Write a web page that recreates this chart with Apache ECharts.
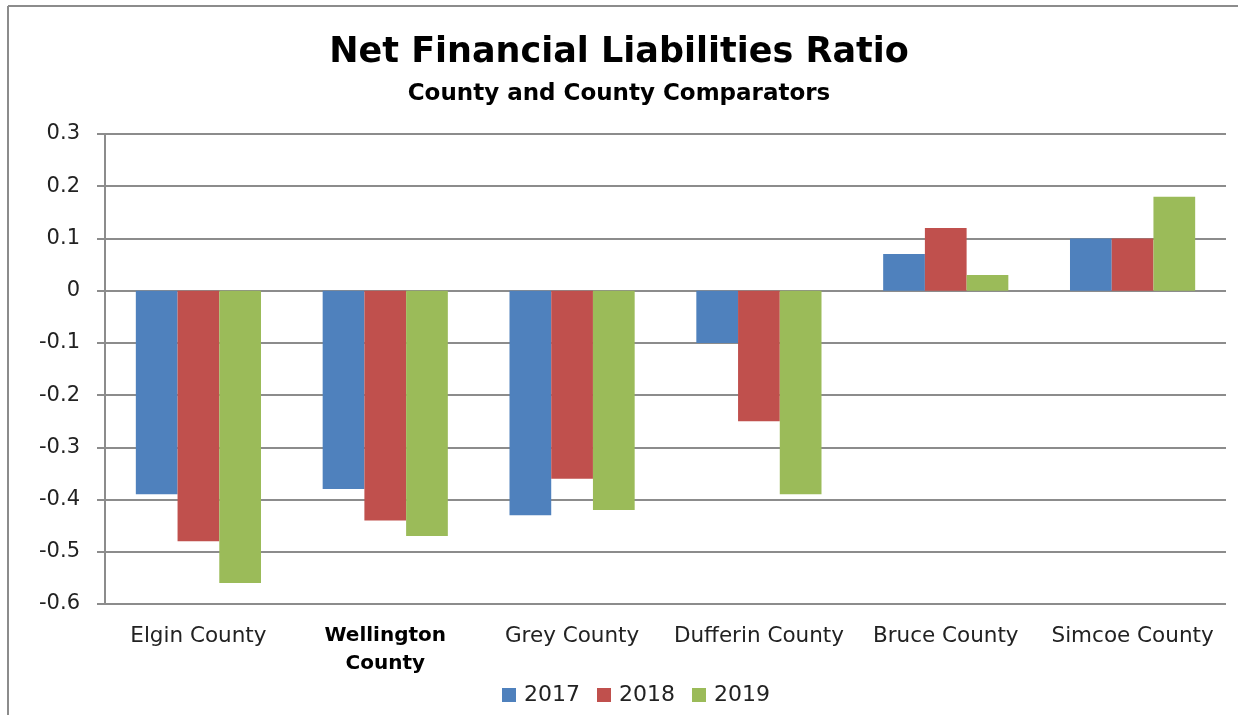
<!DOCTYPE html>
<html><head><meta charset="utf-8">
<script src="https://cdn.jsdelivr.net/npm/echarts@6/dist/echarts.min.js"></script>
<style>html,body{margin:0;padding:0;background:#fff}#c{width:1238px;height:715px}</style>
</head><body><div id="c"></div>
<script>
const categories = ['Elgin County','Wellington County','Grey County','Dufferin County','Bruce County','Simcoe County'];
const years = ['2017','2018','2019'];
const v2017 = [-0.39,-0.38,-0.43,-0.10,0.07,0.10];
const v2018 = [-0.48,-0.44,-0.36,-0.25,0.12,0.10];
const v2019 = [-0.56,-0.47,-0.42,-0.39,0.03,0.18];
const colors = ['#4f81bd','#c0504d','#9bbb59'];
const values = [v2017,v2018,v2019];
const font = '"DejaVu Sans", sans-serif';
const chart = echarts.init(document.getElementById('c'));
chart.setOption({
  animation:false,
  backgroundColor:'#fff',
  title:{text:'Net Financial Liabilities Ratio',subtext:'County and County Comparators',left:'center',top:30,
    textStyle:{fontFamily:font,fontWeight:'bold',fontSize:35,color:'#000'},
    subtextStyle:{fontFamily:font,fontWeight:'bold',fontSize:23,color:'#000'},itemGap:13},
  legend:{bottom:4,left:497,itemWidth:14,itemHeight:14,itemGap:17,icon:'rect',
    textStyle:{fontFamily:font,fontSize:22,color:'#222',padding:[0,0,0,3]},data:years},
  grid:{left:105,right:12,top:134,bottom:111},
  xAxis:{type:'category',data:categories,axisLine:{show:false},axisTick:{show:false},
    axisLabel:{interval:0,margin:18,fontFamily:font,fontSize:21.5,color:'#222',lineHeight:28,
      formatter:(v)=> v==='Wellington County' ? '{b|Wellington}\n{b|County}' : v,
      rich:{b:{fontFamily:font,fontSize:20,fontWeight:'bold',color:'#000',lineHeight:28}}}},
  yAxis:{type:'value',min:-0.6,max:0.3,interval:0.1,
    axisLine:{show:true,lineStyle:{color:'#8c8c8c',width:2}},
    axisTick:{show:true,inside:false,length:8,lineStyle:{color:'#8c8c8c',width:2}},
    splitLine:{lineStyle:{color:'#8c8c8c',width:2}},
    axisLabel:{margin:25,fontFamily:font,fontSize:21,color:'#222',formatter:(v)=>String(Math.round(v*10)/10)}},
  series: years.map((y,i)=>({name:y,type:'bar',data:values[i],itemStyle:{color:colors[i]},
    barGap:'0%',barCategoryGap:'33%'})),
  graphic:[
    {type:'line',shape:{x1:8,y1:6,x2:8,y2:715},style:{stroke:'#8c8c8c',lineWidth:2}},
    {type:'line',shape:{x1:8,y1:6,x2:1238,y2:6},style:{stroke:'#8c8c8c',lineWidth:2}}
  ]
});
</script></body></html>
